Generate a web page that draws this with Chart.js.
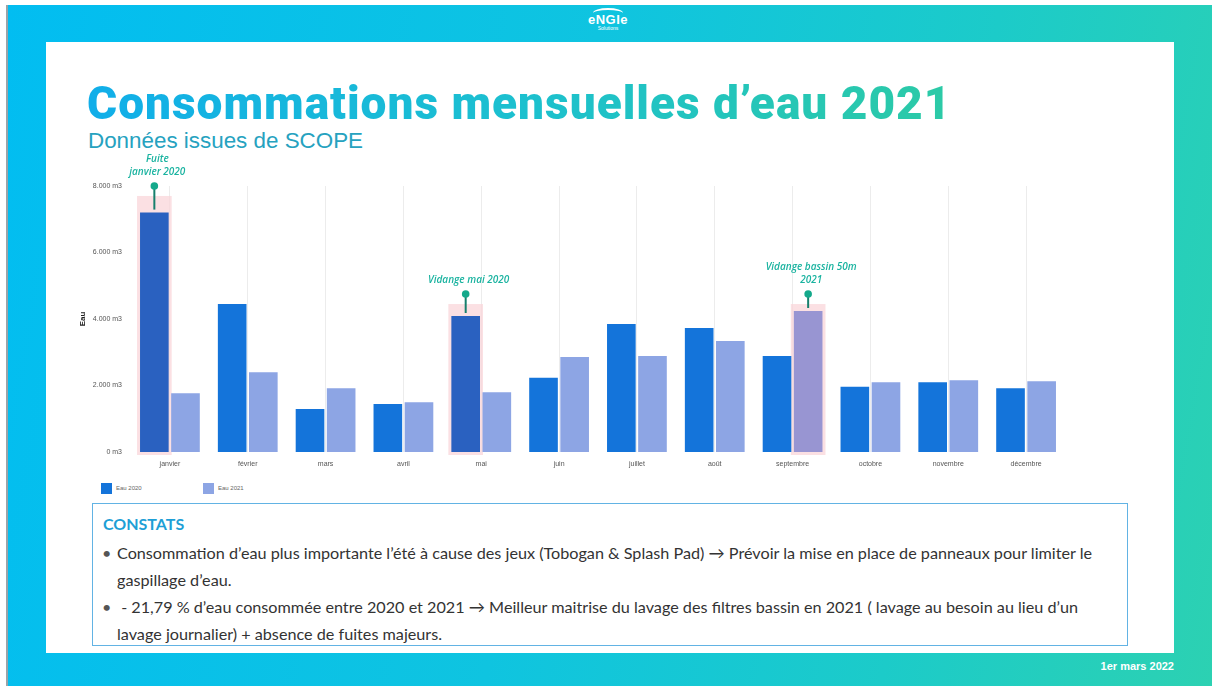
<!DOCTYPE html>
<html lang="fr">
<head>
<meta charset="utf-8">
<title>Consommations mensuelles d'eau 2021</title>
<script src="https://cdn.jsdelivr.net/npm/chart.js@4.4.1/dist/chart.umd.min.js"></script>
<style>
  html, body { margin: 0; padding: 0; }
  body { width: 1212px; height: 686px; position: relative; overflow: hidden; background: #fff; font-family: "Liberation Sans", Arial, sans-serif; }
  .edge { position: absolute; left: 6px; top: 5px; width: 2px; bottom: 0; background: #9aa3a8; }
  .bg { position: absolute; left: 8px; top: 5px; right: 0; bottom: 0;
        background: linear-gradient(100deg, #02bdf1 0%, #0fc4e0 45%, #1ccbc9 75%, #2cd1b2 100%); }
  .panel { position: absolute; left: 46px; top: 42px; width: 1128px; height: 611px; background: #fff; }
  .logo { position: absolute; left: 578px; top: 8px; width: 60px; text-align: center; color: #fff; }
  .logo .arc { width: 30px; height: 8px; margin: 0 auto; border-top: 2px solid #fff; border-radius: 50% 50% 0 0; }
  .logo .name { font: bold 13px "Liberation Sans", sans-serif; letter-spacing: 0.5px; line-height: 11px; margin-top: -4px; }
  .logo .sub { font: 5px "Liberation Sans", sans-serif; line-height: 7px; }
  h1 { position: absolute; left: 87px; top: 78px; margin: 0; font: 900 46px Roboto, "Liberation Sans", Arial, sans-serif; line-height: 50px;
       background: linear-gradient(90deg, #11aee9 0%, #1cc0cf 50%, #2ccaa6 100%);
       -webkit-background-clip: text; background-clip: text; color: transparent; letter-spacing: 1px; }
  .sub-title { position: absolute; left: 88px; top: 128px; font: 22.4px "Liberation Sans", Arial, sans-serif; color: #26a2bf; }
  .chart-box { position: absolute; left: 70px; top: 150px; width: 1000px; height: 322px; }
  .legend { position: absolute; top: 483px; left: 101px; font: 6px "Liberation Sans", sans-serif; color: #666; }
  .legend span.item { position: absolute; top: 0; white-space: nowrap; }
  .legend i { display: inline-block; width: 11px; height: 11px; vertical-align: middle; margin-right: 4px; }
  .constats { position: absolute; left: 92px; top: 503px; width: 1036px; height: 143px; border: 1px solid #62b3e4; box-sizing: border-box; font-family: Lato, "Open Sans", sans-serif; }
  .constats h2 { margin: 0; position: absolute; left: 10px; top: 10px; font: bold 16px Lato, sans-serif; color: #1e9fd6; }
  .constats ul { position: absolute; left: 0; top: 35px; margin: 0; padding: 0 0 0 9px; list-style: none; width: 1015px; font-size: 16.2px; color: #333; line-height: 27px; }
  .constats li { position: relative; padding-left: 15px; }
  .constats li::before { content: "\2022"; position: absolute; left: 0; color: #555; }
  .footer { position: absolute; right: 38px; top: 660px; font: bold 11px "Liberation Sans", sans-serif; color: #fff; }
</style>
</head>
<body>
<div class="edge"></div>
<div class="bg"></div>
<div class="panel"></div>
<div class="logo"><div class="arc"></div><div class="name">eNGIe</div><div class="sub">Solutions</div></div>
<h1>Consommations mensuelles d’eau 2021</h1>
<div class="sub-title">Données issues de SCOPE</div>
<div class="chart-box"><canvas id="chart"></canvas></div>
<div class="legend" id="legend"></div>
<div class="constats">
  <h2>CONSTATS</h2>
  <ul>
    <li>Consommation d’eau plus importante l’été à cause des jeux (Tobogan &amp; Splash Pad) → Prévoir la mise en place de panneaux pour limiter le gaspillage d’eau.</li>
    <li>&nbsp;- 21,79 % d’eau consommée entre 2020 et 2021 → Meilleur maitrise du lavage des filtres bassin en 2021 ( lavage au besoin au lieu d’un lavage journalier) + absence de fuites majeurs.</li>
  </ul>
</div>
<div class="footer">1er mars 2022</div>

<script>
const months = ["janvier", "février", "mars", "avril", "mai", "juin", "juillet", "août", "septembre", "octobre", "novembre", "décembre"];
const eau2020 = [7200, 4450, 1290, 1440, 4090, 2230, 3850, 3730, 2890, 1960, 2100, 1920];
const eau2021 = [1770, 2400, 1920, 1500, 1800, 2860, 2890, 3340, 4240, 2100, 2160, 2130];
const yTicks = [0, 2000, 4000, 6000, 8000];

// faits marquants (index du mois, série, haut de la zone rose, texte)
const notes = [
  { index: 0, series: 0, top: 7700, lines: ["Fuite", "janvier 2020"] },
  { index: 4, series: 0, top: 4450, lines: ["Vidange mai 2020"] },
  { index: 8, series: 1, top: 4450, lines: ["Vidange bassin 50m", "2021"] }
];

const color2020 = "#1474da";
const color2021 = "#8da5e4";
const colorsFor = (series, base, marked) =>
  months.map((m, i) => notes.some(n => n.series === series && n.index === i) ? marked : base);

const fmt = v => String(v).replace(/\B(?=(\d{3})+(?!\d))/g, ".") + " m3";

// zones roses + épingles
const notesPlugin = {
  id: "notes",
  beforeDatasetsDraw(chart) {
    const ctx = chart.ctx;
    const y = chart.scales.y;
    ctx.save();
    ctx.fillStyle = "rgba(250, 214, 218, 0.75)";
    notes.forEach(n => {
      const bar = chart.getDatasetMeta(n.series).data[n.index];
      const top = y.getPixelForValue(n.top);
      ctx.fillRect(bar.x - bar.width / 2 - 3, top, bar.width + 6, y.bottom + 3 - top);
    });
    ctx.restore();
  },
  afterDatasetsDraw(chart) {
    const ctx = chart.ctx;
    const y = chart.scales.y;
    ctx.save();
    notes.forEach(n => {
      const bar = chart.getDatasetMeta(n.series).data[n.index];
      const top = y.getPixelForValue(n.top);
      const cy = top - 10;
      ctx.strokeStyle = "#17806d";
      ctx.lineWidth = 2;
      ctx.beginPath();
      ctx.moveTo(bar.x, cy);
      ctx.lineTo(bar.x, bar.y - 3);
      ctx.stroke();
      ctx.fillStyle = "#14a98b";
      ctx.beginPath();
      ctx.arc(bar.x, cy, 3.8, 0, Math.PI * 2);
      ctx.fill();
      ctx.font = "italic 600 10px 'Open Sans', sans-serif";
      ctx.fillStyle = "#1ab3a0";
      ctx.textAlign = "center";
      ctx.textBaseline = "middle";
      const last = n.lines.length - 1;
      n.lines.forEach((t, k) => ctx.fillText(t, bar.x + 3, cy - 14 - (last - k) * 13));
    });
    ctx.restore();
  }
};

new Chart(document.getElementById("chart"), {
  type: "bar",
  data: {
    labels: months,
    datasets: [
      { label: "Eau 2020", data: eau2020, backgroundColor: colorsFor(0, color2020, "#2a61c0") },
      { label: "Eau 2021", data: eau2021, backgroundColor: colorsFor(1, color2021, "#9895d2") }
    ]
  },
  options: {
    responsive: true,
    maintainAspectRatio: false,
    animation: false,
    datasets: { bar: { categoryPercentage: 0.8, barPercentage: 0.92 } },
    layout: { padding: { top: 36, right: 5, bottom: 0, left: 0 } },
    plugins: { legend: { display: false }, tooltip: { enabled: false } },
    scales: {
      x: {
        grid: { offset: false, drawTicks: false, color: "#ececec", lineWidth: 1 },
        border: { display: false },
        ticks: { color: "#555", font: { family: "Liberation Sans", size: 7 }, padding: 8 },
        afterFit: s => { s.height = 20; }
      },
      y: {
        min: 0, max: 8000,
        afterBuildTicks: s => { s.ticks = yTicks.map(v => ({ value: v })); },
        grid: { display: false, drawTicks: false },
        border: { display: false },
        ticks: { color: "#555", font: { family: "Liberation Sans", size: 7 }, padding: 9, callback: v => fmt(v) },
        title: { display: true, text: "Eau", color: "#222", font: { family: "Liberation Sans", size: 8, weight: "bold" }, padding: { top: 8, bottom: 0 } },
        afterFit: s => { s.width = 61; }
      }
    }
  },
  plugins: [notesPlugin]
});

// légende
const legend = document.getElementById("legend");
[["Eau 2020", color2020, 0], ["Eau 2021", color2021, 102]].forEach(([t, c, x]) => {
  const el = document.createElement("span");
  el.className = "item";
  el.style.left = x + "px";
  el.innerHTML = `<i style="background:${c}"></i>${t}`;
  legend.appendChild(el);
});
</script>
</body>
</html>
